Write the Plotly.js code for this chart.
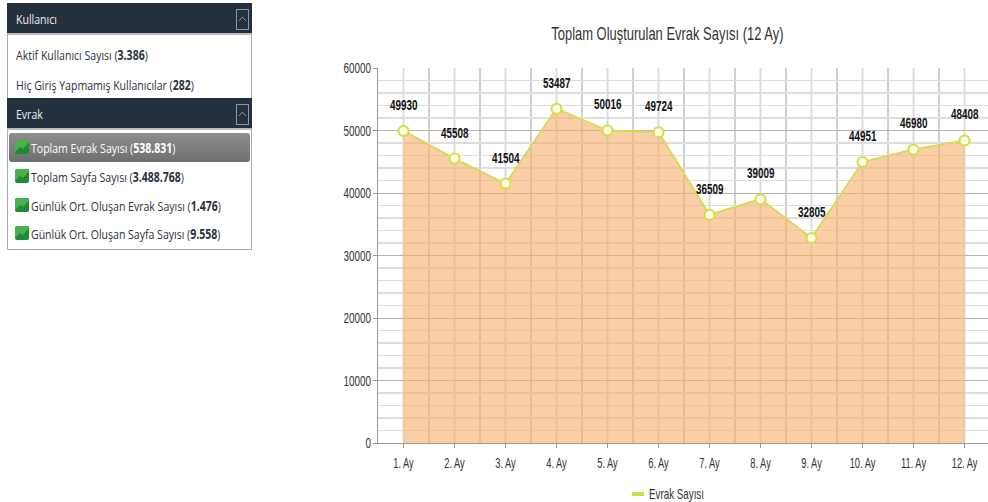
<!DOCTYPE html>
<html><head><meta charset="utf-8">
<script src="https://cdn.plot.ly/plotly-3.0.1.min.js"></script>
<style>
html,body{margin:0;padding:0;background:#fff;overflow:hidden}
#side{position:absolute;left:7px;top:3px;width:245px;height:247px;font-family:"Open Sans",sans-serif;z-index:5}
.box{position:absolute;left:0;width:243px;border:1px solid #a9adb0;background:#fff}
.head{position:absolute;left:0;width:245px;height:32px;background:#25303f;border-bottom:2px solid #b8bcc0;color:#f2f2f2;box-sizing:border-box}
.t{position:absolute;white-space:nowrap;font-size:13.5px;transform-origin:left center;transform:scaleX(.78);color:#2b323b;line-height:18px}
.head .t{left:9px;top:7px;color:#eee}
.btn{position:absolute;left:229px;top:6px;width:11px;height:19px;border:1px solid #8b98a5}
.btn svg{position:absolute;left:1px;top:5px}
.sel{position:absolute;left:2px;top:130px;width:241px;height:29px;border-radius:3px;background:linear-gradient(#8e8e8e,#6f6f6f);}
.ic{position:absolute;left:8px;width:14px;height:14px}
#chart{position:absolute;left:0;top:0;width:988px;height:502px}
</style></head><body>
<div id="chart"></div>
<div id="side">
 <div class="box" style="top:30px;height:215px"></div>
 <div class="head" style="top:0"><span class="t">Kullanıcı</span><span class="btn"><svg width="9" height="8"><path d="M1 6L4.5 2L8 6" fill="none" stroke="#8b98a5"/></svg></span></div>
 <div class="t" style="left:9px;top:43px">Aktif Kullanıcı Sayısı (<b>3.386</b>)</div>
 <div class="t" style="left:9px;top:73px">Hiç Giriş Yapmamış Kullanıcılar (<b>282</b>)</div>
 <div class="head" style="top:95px"><span class="t">Evrak</span><span class="btn"><svg width="9" height="8"><path d="M1 6L4.5 2L8 6" fill="none" stroke="#8b98a5"/></svg></span></div>
 <div class="sel"></div>
 <svg class="ic" style="top:137px" viewBox="0 0 14 14"><rect width="14" height="14" rx="2" fill="#1f8a35"/><path d="M0 12L5 7L8 9L14 2V0H2L0 2Z" fill="#4cb04e"/></svg><div class="t" style="left:24px;top:136px;color:#fff">Toplam Evrak Sayısı (<b>538.831</b>)</div>
 <svg class="ic" style="top:166px" viewBox="0 0 14 14"><rect width="14" height="14" rx="2" fill="#1f8a35"/><path d="M0 12L5 7L8 9L14 2V0H2L0 2Z" fill="#4cb04e"/></svg><div class="t" style="left:24px;top:165px">Toplam Sayfa Sayısı (<b>3.488.768</b>)</div>
 <svg class="ic" style="top:195px" viewBox="0 0 14 14"><rect width="14" height="14" rx="2" fill="#1f8a35"/><path d="M0 12L5 7L8 9L14 2V0H2L0 2Z" fill="#4cb04e"/></svg><div class="t" style="left:24px;top:194px">Günlük Ort. Oluşan Evrak Sayısı (<b>1.476</b>)</div>
 <svg class="ic" style="top:223px" viewBox="0 0 14 14"><rect width="14" height="14" rx="2" fill="#1f8a35"/><path d="M0 12L5 7L8 9L14 2V0H2L0 2Z" fill="#4cb04e"/></svg><div class="t" style="left:24px;top:222px">Günlük Ort. Oluşan Sayfa Sayısı (<b>9.558</b>)</div>
</div>
<script>
const months = ["1. Ay","2. Ay","3. Ay","4. Ay","5. Ay","6. Ay","7. Ay","8. Ay","9. Ay","10. Ay","11. Ay","12. Ay"];
const evrak = [49930,45508,41504,53487,50016,49724,36509,39009,32805,44951,46980,48408];
const seriesName = "Evrak Sayısı";
const chartTitle = "Toplam Oluşturulan Evrak Sayısı (12 Ay)";
const fam = '"Liberation Sans",Arial,sans-serif';

const data = [{
  type:"scatter", mode:"lines+markers", x:months, y:evrak, name:seriesName, showlegend:false,
  fill:"tozeroy", fillcolor:"rgba(248,175,105,0.6)",
  line:{color:"#d8d85c",width:2},
  marker:{size:10,color:"#fdfde4",line:{color:"#d4dc4a",width:2}}
},{
  type:"scatter", mode:"lines", x:[null], y:[null], name:seriesName, showlegend:true,
  line:{color:"#cfdc4a",width:4}
}];
const annotations = months.map((m,i)=>({
  x:m,y:evrak[i],xref:"x",yref:"y",text:"<b>"+evrak[i]+"</b>",showarrow:false,
  yshift:26.5,font:{family:fam,size:15,color:"#111"}
}));
const layout = {
  width:988,height:502,paper_bgcolor:"rgba(0,0,0,0)",plot_bgcolor:"#fff",
  margin:{l:378,r:0,t:68,b:59},
  title:{text:chartTitle,font:{family:fam,size:18,color:"#333"},x:0.6755,xanchor:"center",y:0.933,yanchor:"middle"},
  xaxis:{type:"category",range:[-0.5,11.46],showgrid:false,
    tickfont:{family:fam,size:15,color:"#333"},ticks:"outside",ticklen:4,tickcolor:"#999",ticklabelstandoff:2,
    zeroline:false,showline:true,linecolor:"#999",automargin:false,fixedrange:true},
  yaxis:{range:[0,60000],dtick:10000,tickformat:"d",gridcolor:"#b5b5b5",gridwidth:1,
    minor:{dtick:2000,showgrid:true,gridcolor:"#dedede",gridwidth:1.5},
    tickfont:{family:fam,size:15,color:"#333"},ticks:"outside",ticklen:4,tickcolor:"#999",ticklabelstandoff:-1,
    zeroline:false,showline:true,linecolor:"#999",automargin:false,fixedrange:true},
  annotations:annotations,
  shapes:[],
  showlegend:true,
  legend:{orientation:"h",xref:"container",yref:"container",x:0.6164,xanchor:"left",y:0.047,yanchor:"top",
    font:{family:fam,size:14,color:"#333"},bgcolor:"rgba(0,0,0,0)",itemwidth:30}
};
// vertical grid: major lines between categories, minor lines at category centres
months.forEach((m,i)=>{
  layout.shapes.push({type:"line",layer:"below",xref:"x",yref:"paper",x0:i,x1:i,y0:0,y1:1,line:{color:"#dcdcdc",width:2}});
  layout.shapes.push({type:"line",layer:"below",xref:"x",yref:"paper",x0:i+0.5,x1:i+0.5,y0:0,y1:1,line:{color:"#c0c0c0",width:1.5}});
});
function narrow(sel,s){
  document.querySelectorAll("#chart "+sel).forEach(t=>{
    const x=parseFloat(t.getAttribute("x"))||0;
    const old=t.getAttribute("transform")||"";
    t.setAttribute("transform",old+" translate("+x+",0) scale("+s+",1) translate("+(-x)+",0)");
  });
}
Plotly.newPlot("chart",data,layout,{displayModeBar:false,staticPlot:true}).then(()=>{
  narrow(".gtitle",0.72);
  narrow(".xtick text",0.62);
  narrow(".ytick text",0.66);
  narrow(".annotation-text",0.66);
  narrow(".legendtext",0.70);
  document.querySelectorAll("#chart .legendlines path").forEach(p=>p.setAttribute("d","M23,0h12"));
});
</script>
</body></html>
